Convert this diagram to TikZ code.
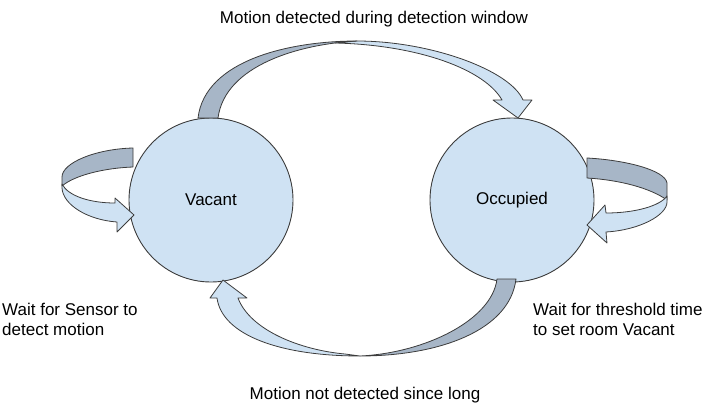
\documentclass[tikz,border=0pt]{standalone}
\usepackage{fontspec}
\setmainfont{Liberation Sans}
\usetikzlibrary{positioning}
\definecolor{stateblue}{HTML}{CFE2F3}
\definecolor{backface}{HTML}{A7B6C7}
\definecolor{edgegray}{HTML}{3C3C3C}

\begin{document}
\begin{tikzpicture}[
    x=1pt, y=-1pt,
    state/.style={circle, draw=edgegray, fill=stateblue, line width=0.9pt, minimum size=164pt, inner sep=0pt, font=\fontsize{17}{20}\selectfont},
    note/.style={font=\fontsize{17}{20}\selectfont, align=left, inner sep=0pt},
    front/.style={fill=stateblue, draw=edgegray, line width=0.8pt, line join=round},
    back/.style={fill=backface, draw=edgegray, line width=0.8pt, line join=round}
]
\useasboundingbox (0,0) rectangle (712,407);

% States
\node[state] (vacant) at (211,200) {Vacant};
\node[state] (occupied) at (512,200) {Occupied};

% Top arrow (Vacant to Occupied)
\path[front] (357,41) .. controls (430,41) and (510,70) .. (523,100) -- (532,100) -- (518,118) -- (493,100) -- (502,100) .. controls (485,70) and (420,45) .. (335,43) -- cycle;
\path[back] (198,118) .. controls (205,60) and (290,41) .. (357,41) .. controls (300,44) and (225,65) .. (218,118) -- cycle;

% Bottom arrow (Occupied to Vacant)
\path[front] (360,356) .. controls (280,356) and (222,335) .. (217,298) -- (210,298) -- (223,280) -- (247,298) -- (238,298) .. controls (250,330) and (300,350) .. (345,354) -- cycle;
\path[back] (516,279) .. controls (510,330) and (440,356) .. (360,356) .. controls (425,353) and (492,320) .. (497,279) -- cycle;

% Self loop on Vacant
\path[back] (133,148) .. controls (95,149) and (62,163) .. (62,177) -- (62,186) .. controls (75,175) and (105,168) .. (133,167) -- cycle;
\path[front] (62,184) .. controls (68,196) and (90,203) .. (115,203) -- (115,198) -- (134,215) -- (117,232) -- (117,222) .. controls (88,220) and (63,205) .. (62,188) -- cycle;

% Self loop on Occupied
\path[back] (587,158) .. controls (625,160) and (665,170) .. (667,183) -- (667,200) .. controls (650,188) and (620,180) .. (587,178) -- cycle;
\path[front] (667,196) .. controls (660,206) and (635,213) .. (606,213) -- (605,205) -- (587,225) -- (607,243) -- (606,232) .. controls (640,230) and (667,215) .. (667,202) -- cycle;

% Labels
\node[note, anchor=base] (detected) at (374,23) {Motion detected during detection window};
\node[note, anchor=base] (notdetected) at (365,399) {Motion not detected since long};
\node[note, anchor=north west] (waitsensor) at (2,303) {Wait for Sensor to\\detect motion};
\node[note, anchor=north west] (waitthreshold) at (533,303) {Wait for threshold time\\to set room Vacant};

\end{tikzpicture}
\end{document}
